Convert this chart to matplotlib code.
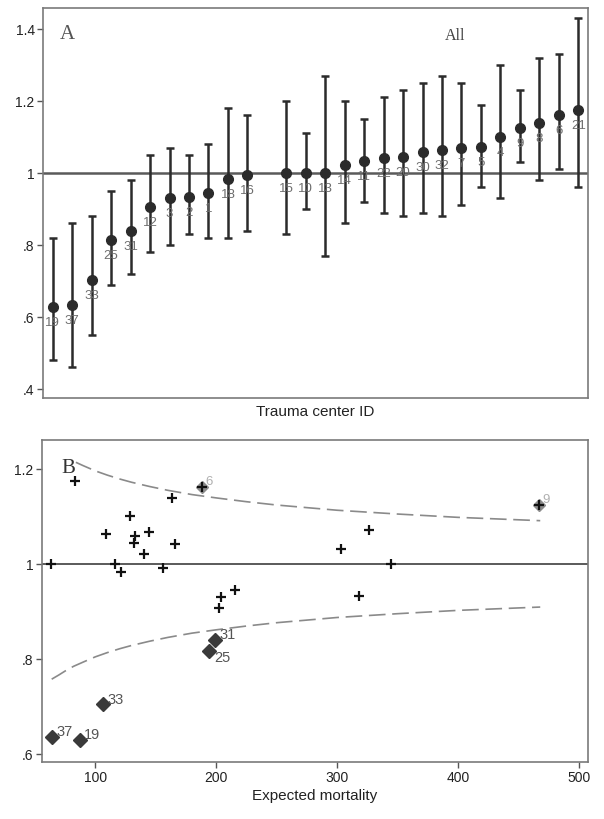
import numpy as np
import matplotlib
matplotlib.use("Agg")
import matplotlib.pyplot as plt

plt.rcParams['font.family'] = ['Liberation Sans', 'DejaVu Sans']

# ---------------- Panel A data (ranked centers) ----------------
center_ids = ["19", "37", "33", "25", "31", "12", "3", "2", "1", "18", "16", "",
              "15", "10", "13", "14", "11", "22", "20", "30", "32", "7", "5", "4",
              "9", "8", "6", "21"]
ratio = [0.629, 0.634, 0.703, 0.815, 0.840, 0.905, 0.930, 0.932, 0.944, 0.983, 0.995, np.nan,
         1.000, 1.000, 1.000, 1.021, 1.033, 1.041, 1.045, 1.059, 1.064, 1.069, 1.073, 1.099,
         1.125, 1.140, 1.162, 1.176]
ci_low = [0.48, 0.46, 0.55, 0.69, 0.72, 0.78, 0.80, 0.83, 0.82, 0.82, 0.84, np.nan,
          0.83, 0.90, 0.77, 0.86, 0.92, 0.89, 0.88, 0.89, 0.88, 0.91, 0.96, 0.93,
          1.03, 0.98, 1.01, 0.96]
ci_high = [0.82, 0.86, 0.88, 0.95, 0.98, 1.05, 1.07, 1.05, 1.08, 1.18, 1.16, np.nan,
           1.20, 1.11, 1.27, 1.20, 1.15, 1.21, 1.23, 1.25, 1.27, 1.25, 1.19, 1.30,
           1.23, 1.32, 1.33, 1.43]
a_yticks = [0.4, 0.6, 0.8, 1.0, 1.2, 1.4]
a_yticklabels = [".4", ".6", ".8", "1", "1.2", "1.4"]

# ---------------- Panel B data (funnel plot) ----------------
in_ids = ["13", "21", "32", "4", "30", "20", "7", "14", "15", "18", "16", "8", "22",
          "1", "3", "12", "5", "11", "10", "2"]
in_expected = [63.4, 83.7, 109.1, 128.9, 132.5, 131.7, 144.1, 140.0, 116.0, 121.2, 156.0,
               163.4, 166.1, 215.4, 204.4, 202.2, 326.4, 303.3, 344.4, 318.4]
in_ratio = [1.000, 1.175, 1.062, 1.100, 1.059, 1.044, 1.068, 1.020, 1.000, 0.983, 0.992,
            1.139, 1.041, 0.944, 0.931, 0.906, 1.072, 1.032, 1.000, 0.933]
high_ids = ["6", "9"]
high_expected = [188.7, 467.2]
high_ratio = [1.163, 1.125]
low_ids = ["31", "25", "33", "37", "19"]
low_expected = [199.2, 194.2, 106.6, 64.5, 87.4]
low_ratio = [0.840, 0.816, 0.704, 0.636, 0.629]

lim_low_x = [64, 70, 75, 82, 90, 100, 110, 120, 130, 145, 160, 180, 200, 225, 250, 300, 350, 400, 468]
lim_low_y = [0.757, 0.766, 0.774, 0.784, 0.793, 0.804, 0.813, 0.821, 0.828, 0.837, 0.845,
             0.854, 0.861, 0.869, 0.876, 0.887, 0.895, 0.902, 0.909]
lim_up_x = [84, 90, 100, 110, 120, 130, 145, 160, 180, 200, 225, 250, 300, 350, 400, 468]
lim_up_y = [1.214, 1.207, 1.196, 1.187, 1.179, 1.172, 1.163, 1.155, 1.146, 1.139, 1.131,
            1.124, 1.113, 1.105, 1.098, 1.091]
b_xticks = [100, 200, 300, 400, 500]
b_yticks = [0.6, 0.8, 1.0, 1.2]
b_yticklabels = [".6", ".8", "1", "1.2"]

W, H = 604, 820
fig = plt.figure(figsize=(W / 100, H / 100), dpi=100)

def rect(l, t, r, b):
    return [l / W, 1 - b / H, (r - l) / W, (b - t) / H]

frame_col = '#7a7a7a'

def style(ax):
    for s in ax.spines.values():
        s.set_color(frame_col)
        s.set_linewidth(1.2)
    ax.tick_params(direction='out', length=4.5, width=1, color='#555555',
                   labelsize=10, labelcolor='#222222', pad=1.5)

# ---------------- Panel A ----------------
axA = fig.add_axes(rect(43, 9, 588, 399))
style(axA)
pos = np.arange(1, len(center_ids) + 1)
r = np.array(ratio)
lo = np.array(ci_low)
hi = np.array(ci_high)
axA.axhline(1.0, color='#5a5a5a', lw=1.8, zorder=1)
axA.errorbar(pos, r, yerr=[r - lo, hi - r], fmt='o', color='#2b2b2b', ecolor='#2b2b2b',
             elinewidth=1.8, capsize=3, capthick=1.8, markersize=7, zorder=3)
for x, y, lab in zip(pos, r, center_ids):
    if lab and not np.isnan(y):
        axA.annotate(lab, (x, y), xytext=(0, -6.5), textcoords='offset points',
                     ha='center', va='top', fontsize=9.5, color='#6e6e6e', zorder=4)
axA.set_xlim(0.5, len(center_ids) + 0.5)
axA.set_ylim(0.375, 1.458)
axA.set_yticks(a_yticks)
axA.set_yticklabels(a_yticklabels)
axA.tick_params(axis='x', bottom=False, labelbottom=False)
axA.set_xlabel("Trauma center ID", fontsize=11, color='#222222', labelpad=4)
axA.text(0.045, 0.935, "A", transform=axA.transAxes, fontsize=15,
         family=['Liberation Serif', 'DejaVu Serif'], color='#555555', ha='center', va='center')
axA.text(0.757, 0.93, "All", transform=axA.transAxes, fontsize=11.5,
         family=['Liberation Serif', 'DejaVu Serif'], color='#444444', ha='center', va='center')

# ---------------- Panel B ----------------
axB = fig.add_axes(rect(42, 441, 588, 763))
style(axB)
axB.axhline(1.0, color='#5a5a5a', lw=1.4, zorder=1)
axB.plot(lim_low_x, lim_low_y, color='#8a8a8a', lw=1.2, linestyle=(0, (10, 4)), zorder=2)
axB.plot(lim_up_x, lim_up_y, color='#8a8a8a', lw=1.2, linestyle=(0, (10, 4)), zorder=2)
axB.plot(in_expected, in_ratio, linestyle='none', marker='+', markersize=7,
         mew=1.6, color='#111111', zorder=4)
axB.plot(high_expected, high_ratio, linestyle='none', marker='D', markersize=6.5,
         color='#8c8c8c', mec='#8c8c8c', zorder=3)
axB.plot(high_expected, high_ratio, linestyle='none', marker='+', markersize=7,
         mew=1.6, color='#111111', zorder=4)
for x, y, lab in zip(high_expected, high_ratio, high_ids):
    axB.annotate(lab, (x, y), xytext=(2, 0), textcoords='offset points',
                 ha='left', va='bottom', fontsize=9.5, color='#b0b0b0', zorder=5)
axB.plot(low_expected, low_ratio, linestyle='none', marker='D', markersize=7,
         color='#3a3a3a', mec='#3a3a3a', zorder=3)
for x, y, lab in zip(low_expected, low_ratio, low_ids):
    if lab == "25":
        axB.annotate(lab, (x, y), xytext=(4, 1), textcoords='offset points',
                     ha='left', va='top', fontsize=10.5, color='#555555', zorder=5)
    else:
        axB.annotate(lab, (x, y), xytext=(3, -1), textcoords='offset points',
                     ha='left', va='bottom', fontsize=10.5, color='#555555', zorder=5)
axB.set_xlim(56, 507.5)
axB.set_ylim(0.5825, 1.261)
axB.set_xticks(b_xticks)
axB.set_yticks(b_yticks)
axB.set_yticklabels(b_yticklabels)
axB.set_xlabel("Expected mortality", fontsize=11, color='#222222', labelpad=3)
axB.text(0.048, 0.915, "B", transform=axB.transAxes, fontsize=15,
         family=['Liberation Serif', 'DejaVu Serif'], color='#333333', ha='center', va='center')

fig.savefig("out.png", dpi=100, facecolor='white')
